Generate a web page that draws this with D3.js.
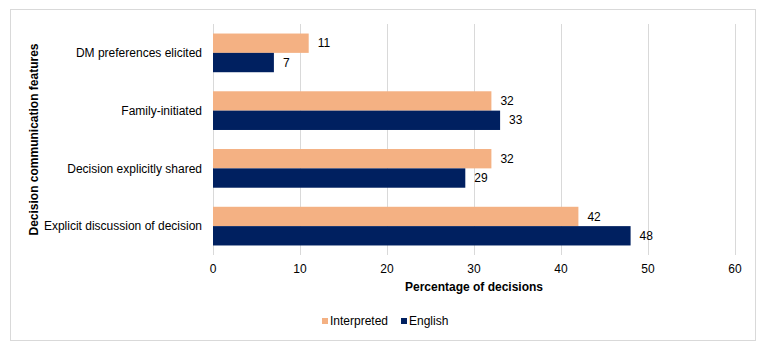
<!DOCTYPE html>
<html>
<head>
<meta charset="utf-8">
<script src="https://cdn.jsdelivr.net/npm/d3@7"></script>
<style>
    body { margin: 0; background: #fff; }
    svg { font-family: "Liberation Sans", Arial, sans-serif; }
</style>
</head>
<body>
<div id="chart"></div>
<script>
"use strict";

const categories = ["DM preferences elicited", "Family-initiated", "Decision explicitly shared", "Explicit discussion of decision"];
const seriesNames = ["Interpreted", "English"];
const interpreted = [11, 32, 32, 42];
const english = [7, 33, 29, 48];
const xTicks = [0, 10, 20, 30, 40, 50, 60];

const COLORS = {"Interpreted": "#F4B183", "English": "#002060"};

function buildChart() {
    const width = 765, height = 351;
    const margin = {left: 213, right: 30, top: 24, bottom: 96};
    const svg = d3.select("#chart").append("svg")
        .attr("width", width)
        .attr("height", height);

    svg.append("rect")
        .attr("x", 10.5).attr("y", 9.5)
        .attr("width", 745).attr("height", 331)
        .attr("fill", "#fff")
        .attr("stroke", "#d9d9d9");

    const x = d3.scaleLinear().domain([0, 60]).range([margin.left, width - margin.right]);
    const y = d3.scaleBand().domain(categories)
        .range([margin.top, height - margin.bottom])
        .paddingInner(0.33).paddingOuter(0.165);
    const ySub = d3.scaleBand().domain(seriesNames).range([0, y.bandwidth()]);

    // grid
    svg.append("g").selectAll("line")
        .data(xTicks)
        .enter()
        .append("line")
        .attr("x1", function (d) { return Math.round(x(d)) + 0.5; })
        .attr("x2", function (d) { return Math.round(x(d)) + 0.5; })
        .attr("y1", margin.top)
        .attr("y2", height - margin.bottom)
        .attr("stroke", "#d9d9d9");

    const rows = categories.map(function (c, i) {
        return [
            {cat: c, series: "Interpreted", value: interpreted[i]},
            {cat: c, series: "English", value: english[i]}
        ];
    }).flat();

    svg.append("g").selectAll("rect")
        .data(rows)
        .enter()
        .append("rect")
        .attr("x", x(0))
        .attr("y", function (d) { return y(d.cat) + ySub(d.series); })
        .attr("width", function (d) { return x(d.value) - x(0); })
        .attr("height", ySub.bandwidth())
        .attr("fill", function (d) { return COLORS[d.series]; });

    svg.append("g").selectAll("text")
        .data(rows)
        .enter()
        .append("text")
        .attr("x", function (d) { return x(d.value) + 9; })
        .attr("y", function (d) { return y(d.cat) + ySub(d.series) + ySub.bandwidth() / 2; })
        .attr("dy", "0.35em")
        .attr("font-size", 12)
        .attr("fill", "#000")
        .text(function (d) { return d.value; });

    // category labels
    svg.append("g").selectAll("text")
        .data(categories)
        .enter()
        .append("text")
        .attr("x", 202)
        .attr("y", function (d) { return y(d) + y.bandwidth() / 2; })
        .attr("dy", "0.35em")
        .attr("text-anchor", "end")
        .attr("font-size", 12)
        .attr("fill", "#000")
        .text(function (d) { return d; });

    // x tick labels
    svg.append("g").selectAll("text")
        .data(xTicks)
        .enter()
        .append("text")
        .attr("x", function (d) { return x(d); })
        .attr("y", 269)
        .attr("dy", "0.35em")
        .attr("text-anchor", "middle")
        .attr("font-size", 12)
        .attr("fill", "#000")
        .text(function (d) { return d; });

    svg.append("text")
        .attr("x", (x(0) + x(60)) / 2)
        .attr("y", 287)
        .attr("dy", "0.35em")
        .attr("text-anchor", "middle")
        .attr("font-size", 12)
        .attr("font-weight", "bold")
        .text("Percentage of decisions");

    svg.append("text")
        .attr("transform", "translate(34," + ((margin.top + height - margin.bottom) / 2) + ") rotate(-90)")
        .attr("dy", "0.35em")
        .attr("text-anchor", "middle")
        .attr("font-size", 12)
        .attr("font-weight", "bold")
        .text("Decision communication features");

    // legend
    const legend = svg.append("g").attr("transform", "translate(322,321)");
    const items = legend.selectAll("g")
        .data(seriesNames)
        .enter()
        .append("g")
        .attr("transform", function (d, i) { return "translate(" + (i * 79) + ",0)"; });
    items.append("rect")
        .attr("x", 0).attr("y", -3)
        .attr("width", 6).attr("height", 6)
        .attr("fill", function (d) { return COLORS[d]; });
    items.append("text")
        .attr("x", 8)
        .attr("dy", "0.35em")
        .attr("font-size", 12)
        .attr("fill", "#000")
        .text(function (d) { return d; });
}

buildChart();
</script>
</body>
</html>
